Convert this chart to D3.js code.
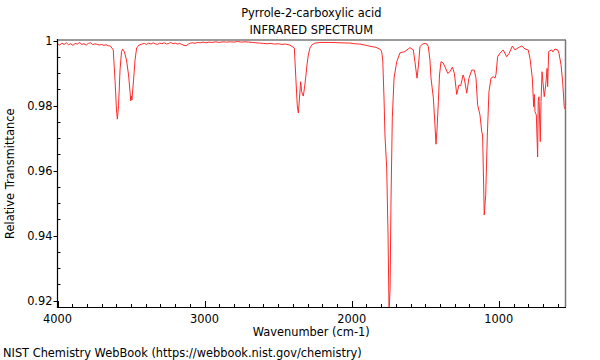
<!DOCTYPE html>
<html>
<head>
<meta charset="utf-8">
<script src="https://cdn.jsdelivr.net/npm/d3@7"></script>
<style>
  html, body { margin: 0; padding: 0; background: #fff; }
  svg { display: block; font-family: "DejaVu Sans", sans-serif; }
</style>
</head>
<body>
<svg id="chart" width="600" height="360"></svg>
<script>
const titleLines = ["Pyrrole-2-carboxylic acid", "INFRARED SPECTRUM"];
const xLabel = "Wavenumber (cm-1)";
const yLabel = "Relative Transmittance";
const footer = "NIST Chemistry WebBook (https://webbook.nist.gov/chemistry)";

const xTickValues = [4000, 3000, 2000, 1000];
const yTickValues = [0.92, 0.94, 0.96, 0.98, 1.0];
const yTickLabels = ["0.92", "0.94", "0.96", "0.98", "1"];

const wavenumbers = [
  4000, 3985, 3970, 3955, 3940, 3925, 3910, 3895, 3880, 3865, 3850, 3835, 3820, 3805, 3790, 3775, 3760, 3745, 3730, 3715,
  3700, 3685, 3670, 3655, 3640,
  3621, 3609, 3599, 3593, 3585, 3575, 3565, 3557, 3545, 3531, 3517, 3507, 3502, 3498, 3494, 3483, 3473, 3462, 3446,
  3426, 3410, 3395, 3380, 3365, 3350, 3335, 3320, 3305, 3290, 3275, 3260, 3245, 3230, 3215, 3200, 3185, 3170, 3155, 3140,
  3125, 3110, 3095, 3080, 3065, 3050, 3030, 3010, 2990, 2970, 2950, 2925, 2900, 2875, 2850, 2825, 2800, 2775, 2750, 2725,
  2700, 2675, 2650, 2625, 2600, 2575, 2550, 2525, 2500, 2475, 2450, 2420,
  2390, 2379, 2370, 2363, 2356, 2347, 2340, 2329, 2321, 2313, 2304, 2295, 2284, 2272, 2250,
  2215, 2148, 2080, 2013, 1978, 1944, 1910, 1862, 1835, 1821, 1804, 1796,
  1789, 1780, 1774, 1762, 1753, 1746, 1739, 1733, 1724, 1712, 1694, 1672, 1638, 1604, 1581,
  1570, 1556, 1546, 1536, 1519, 1502, 1488, 1479, 1468, 1461, 1445, 1434, 1427, 1420, 1411, 1403,
  1393, 1379, 1366, 1347, 1332, 1316, 1302, 1286, 1271, 1259, 1243, 1235, 1218, 1203, 1184, 1167,
  1155, 1144, 1128, 1116, 1110, 1103, 1099, 1089, 1078, 1067, 1053, 1037, 1026, 1019, 1008, 992,
  970, 946, 929, 908, 890, 867, 844, 822, 800, 788, 772, 763, 759, 754, 745, 736, 732, 727, 718,
  713, 706, 698, 691, 681, 672, 668, 661, 640, 632, 618, 600, 591, 577, 566, 555, 546
];
const transmittance = [
  0.9990, 0.9986, 0.9992, 0.9988, 0.9993, 0.9987, 0.9990, 0.9985, 0.9991, 0.9989, 0.9994, 0.9988, 0.9990, 0.9986, 0.9991, 0.9993, 0.9987, 0.9990, 0.9988, 0.9986,
  0.9988, 0.9985, 0.9987, 0.9984, 0.9983,
  0.9971, 0.9878, 0.9786, 0.9758, 0.9800, 0.9909, 0.9965, 0.9974, 0.9965, 0.9940, 0.9894, 0.9842, 0.9814, 0.9829, 0.9817, 0.9878, 0.9940, 0.9977, 0.9986,
  0.9989, 0.9991, 0.9988, 0.9992, 0.9989, 0.9993, 0.9990, 0.9988, 0.9992, 0.9990, 0.9993, 0.9989, 0.9991, 0.9994, 0.9990, 0.9992, 0.9989, 0.9991, 0.9988, 0.9985,
  0.9984, 0.9989, 0.9992, 0.9993, 0.9991, 0.9994, 0.9993, 0.9995, 0.9993, 0.9995, 0.9994, 0.9996, 0.9994, 0.9996, 0.9995, 0.9996, 0.9995, 0.9997, 0.9995, 0.9996,
  0.9995, 0.9994, 0.9993, 0.9992, 0.9991, 0.9990, 0.9991, 0.9989, 0.9990, 0.9988, 0.9989, 0.9986,
  0.9977, 0.9878, 0.9800, 0.9777, 0.9817, 0.9873, 0.9842, 0.9829, 0.9854, 0.9885, 0.9925, 0.9955, 0.9977, 0.9986, 0.9992,
  0.9994, 0.9994, 0.9993, 0.9992, 0.9990, 0.9989, 0.9986, 0.9981, 0.9979, 0.9976, 0.9972, 0.9965,
  0.9940, 0.9817, 0.9709, 0.9608, 0.9402, 0.9160, 0.9238, 0.9503, 0.9762, 0.9885, 0.9934, 0.9962, 0.9966, 0.9978, 0.9971,
  0.9934, 0.9884, 0.9925, 0.9981, 0.9989, 0.9991, 0.9989, 0.9981, 0.9940, 0.9885, 0.9823, 0.9740, 0.9681, 0.9725, 0.9812, 0.9894,
  0.9935, 0.9931, 0.9919, 0.9899, 0.9904, 0.9918, 0.9899, 0.9834, 0.9863, 0.9861, 0.9894, 0.9884, 0.9838, 0.9884, 0.9909, 0.9909,
  0.9884, 0.9802, 0.9771, 0.9719, 0.9709, 0.9555, 0.9463, 0.9525, 0.9709, 0.9842, 0.9884, 0.9889, 0.9884, 0.9896, 0.9950, 0.9961,
  0.9971, 0.9950, 0.9961, 0.9983, 0.9971, 0.9978, 0.9983, 0.9974, 0.9971, 0.9945, 0.9884, 0.9796, 0.9834, 0.9781, 0.9771, 0.9642, 0.9812, 0.9827, 0.9689,
  0.9812, 0.9904, 0.9863, 0.9827, 0.9863, 0.9914, 0.9858, 0.9966, 0.9971, 0.9965, 0.9974, 0.9971, 0.9961, 0.9925, 0.9873, 0.9796, 0.9786
];

const svg = d3.select("#chart");
const mLeft = 57.5, mRight = 565, mTop = 40.5, mBottom = 307;
const fs = 11.4;

const x = d3.scaleLinear().domain([4000, 550]).range([mLeft, mRight]);
const y = d3.scaleLinear().domain([0.92, 1.0]).range([300.5, 40.5]);

// title
svg.selectAll("text.title").data(titleLines).join("text")
  .attr("class", "title")
  .attr("x", (mLeft + mRight) / 2)
  .attr("y", (d, i) => 17 + i * 17)
  .attr("text-anchor", "middle")
  .attr("font-size", fs)
  .attr("fill", "#000")
  .text(d => d);

// clip
svg.append("clipPath").attr("id", "clip")
  .append("rect").attr("x", mLeft).attr("y", mTop - 1).attr("width", mRight - mLeft).attr("height", mBottom - mTop + 1);

// spectrum line
const pts = wavenumbers.map((w, i) => [w, transmittance[i]]);
svg.append("path")
  .datum(pts)
  .attr("clip-path", "url(#clip)")
  .attr("fill", "none")
  .attr("stroke", "#ff2a2a")
  .attr("stroke-width", 1)
  .attr("stroke-linejoin", "round")
  .attr("d", d3.line().x(d => x(d[0])).y(d => y(d[1])));

// frame: top and right
svg.append("line").attr("x1", mLeft).attr("x2", mRight + 1).attr("y1", 40).attr("y2", 40)
  .attr("stroke", "#9a9a9a").attr("stroke-width", 2);
svg.append("line").attr("x1", mRight + 0.5).attr("x2", mRight + 0.5).attr("y1", 40).attr("y2", mBottom)
  .attr("stroke", "#777").attr("stroke-width", 1.5);

// x axis
const xMinor = d3.range(600, 4000, 100).filter(v => v % 1000 !== 0);
const gx = svg.append("g");
gx.selectAll("line.minor").data(xMinor).join("line")
  .attr("class", "minor")
  .attr("x1", d => Math.round(x(d)) + 0.5).attr("x2", d => Math.round(x(d)) + 0.5)
  .attr("y1", mBottom).attr("y2", mBottom - 3)
  .attr("stroke", "#000").attr("stroke-width", 1);
gx.selectAll("line.major").data(xTickValues).join("line")
  .attr("class", "major")
  .attr("x1", d => Math.round(x(d)) + 0.5).attr("x2", d => Math.round(x(d)) + 0.5)
  .attr("y1", mBottom).attr("y2", mBottom - 6)
  .attr("stroke", "#000").attr("stroke-width", 1);
gx.selectAll("text").data(xTickValues).join("text")
  .attr("x", d => x(d)).attr("y", mBottom + 15.5)
  .attr("text-anchor", "middle").attr("font-size", fs).attr("fill", "#000")
  .text(d => d);
svg.append("line").attr("x1", mLeft - 0.5).attr("x2", mRight + 1).attr("y1", mBottom + 0.5).attr("y2", mBottom + 0.5)
  .attr("stroke", "#000").attr("stroke-width", 1.2);

// y axis
const yMinor = d3.range(0.92, 1.0, 0.005).filter((v, i) => i % 4 !== 0);
const gy = svg.append("g");
gy.selectAll("line.minor").data(yMinor).join("line")
  .attr("class", "minor")
  .attr("x1", mLeft).attr("x2", mLeft + 3)
  .attr("y1", d => Math.round(y(d)) + 0.5).attr("y2", d => Math.round(y(d)) + 0.5)
  .attr("stroke", "#000").attr("stroke-width", 1);
gy.selectAll("line.major").data(yTickValues).join("line")
  .attr("class", "major")
  .attr("x1", mLeft - 4).attr("x2", mLeft)
  .attr("y1", d => Math.round(y(d)) + 0.5).attr("y2", d => Math.round(y(d)) + 0.5)
  .attr("stroke", "#000").attr("stroke-width", 1);
gy.selectAll("text").data(yTickValues).join("text")
  .attr("x", mLeft - 5).attr("y", d => y(d) + 4.3)
  .attr("text-anchor", "end").attr("font-size", fs).attr("fill", "#000")
  .text((d, i) => yTickLabels[i]);
svg.append("line").attr("x1", mLeft).attr("x2", mLeft).attr("y1", 39).attr("y2", mBottom + 1)
  .attr("stroke", "#000").attr("stroke-width", 1.2);

// axis labels
svg.append("text").attr("x", (mLeft + mRight) / 2).attr("y", 336)
  .attr("text-anchor", "middle").attr("font-size", fs).attr("fill", "#000").text(xLabel);
svg.append("text").attr("transform", `translate(14,${(mTop + mBottom) / 2}) rotate(-90)`)
  .attr("text-anchor", "middle").attr("font-size", fs).attr("fill", "#000").text(yLabel);

// footer
svg.append("text").attr("x", 3).attr("y", 357)
  .attr("font-size", fs).attr("fill", "#000").text(footer);
</script>
</body>
</html>
